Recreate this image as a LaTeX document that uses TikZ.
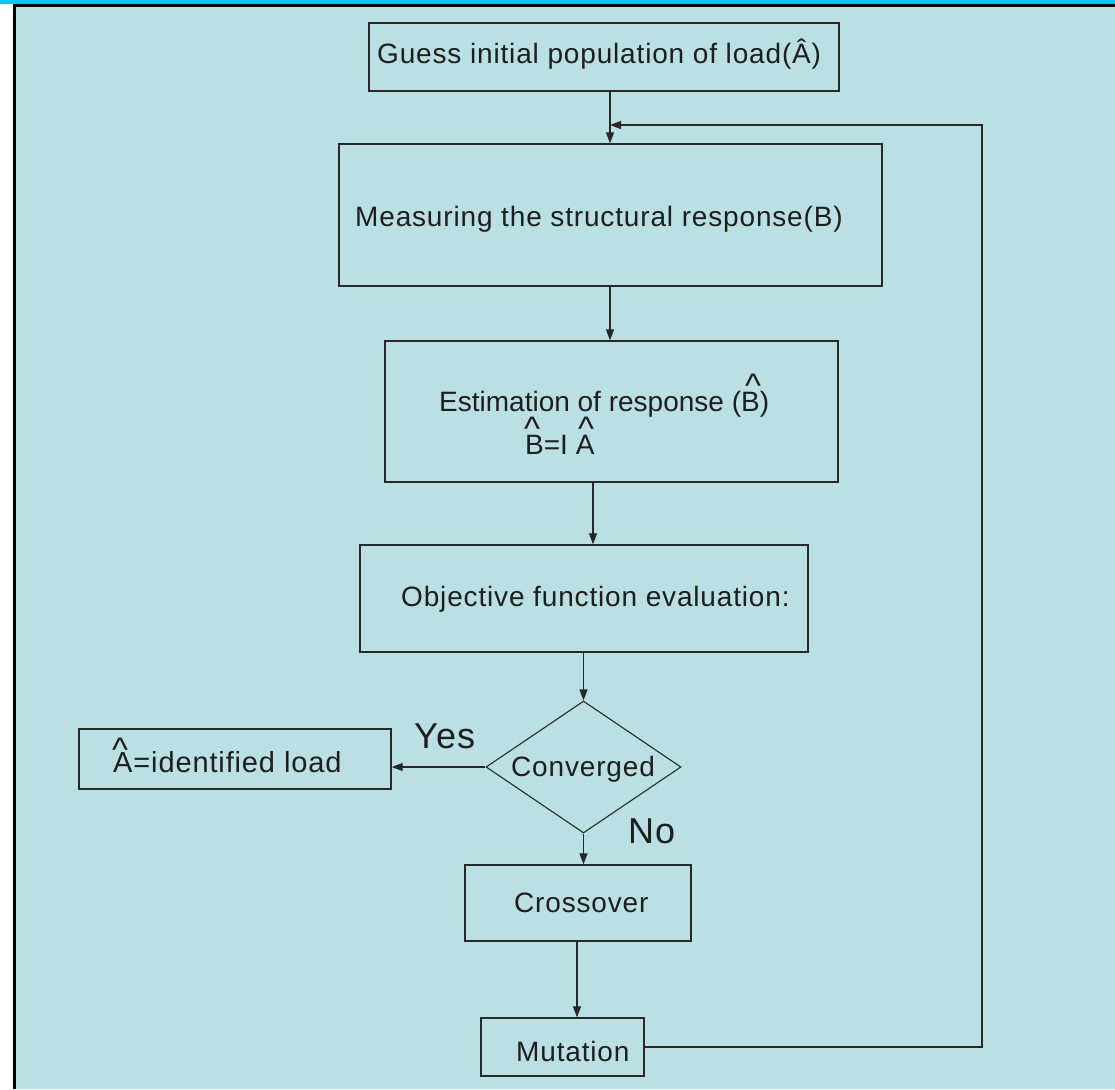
\documentclass[tikz,border=0pt]{standalone}
\usepackage{fontspec}
\setmainfont{Liberation Sans}[LetterSpace=3]
\newfontfamily\plainfont{Liberation Sans}
\usetikzlibrary{shapes.geometric,arrows.meta}
\definecolor{bgc}{RGB}{186,224,227}
\definecolor{topc}{RGB}{0,200,255}
\definecolor{linec}{RGB}{40,40,40}
\definecolor{txtc}{RGB}{30,30,30}
\begin{document}
\begin{tikzpicture}[x=1pt,y=-1pt,
  box/.style={draw=linec,line width=1.3pt,rectangle,inner sep=0pt,anchor=center},
  decision/.style={draw=linec,line width=1.1pt,diamond,inner sep=0pt,anchor=center,
    minimum width=195pt,minimum height=132pt,shape aspect=1.48},
  lbl/.style={anchor=base west,inner sep=0pt,text=txtc,font=\fontsize{28}{34}\selectfont},
  biglbl/.style={anchor=base west,inner sep=0pt,text=txtc,font=\fontsize{36}{40}\selectfont},
  hat/.style={anchor=base west,inner sep=0pt,text=txtc,font=\plainfont\fontsize{34}{40}\selectfont},
  arr/.style={draw=linec,line width=1.2pt,-{Triangle[length=11pt,width=8pt]}},
  ln/.style={draw=linec,line width=1.2pt}]
\useasboundingbox (0,0) rectangle (1115,1089);
% background and frame
\fill[white] (0,0) rectangle (1115,1089);
\fill[bgc] (13,5) rectangle (1115,1089);
\fill[topc] (0,0) rectangle (1115,4.5);
\fill[black] (13,4.5) rectangle (1115,7.5);
\fill[black] (12.5,4.5) rectangle (15.5,1089);
% boxes
\node[box,minimum width=470pt,minimum height=68pt] (guess) at (604,57) {};
\node[box,minimum width=543pt,minimum height=142pt] (meas) at (610.5,215) {};
\node[box,minimum width=453pt,minimum height=141pt] (est) at (611.5,411.5) {};
\node[box,minimum width=448pt,minimum height=107pt] (obj) at (584,598.5) {};
\node[decision] (conv) at (583.5,767) {};
\node[box,minimum width=312pt,minimum height=60pt] (ident) at (235,759) {};
\node[box,minimum width=226pt,minimum height=76pt] (cross) at (578,903) {};
\node[box,minimum width=163pt,minimum height=58pt] (mut) at (562.5,1047) {};
% texts
\node[lbl] (tguess) at (377,64) {Guess initial population of load(Â)};
\node[lbl] (tmeas) at (355,226) {Measuring the structural response(B)};
\node[lbl,font=\plainfont\fontsize{28}{34}\selectfont] (test1) at (439,411) {Estimation of response (B)};
\node[hat] (h1) at (745,397) {\textasciicircum};
\node[lbl,font=\plainfont\fontsize{28}{34}\selectfont] (test2) at (525,454) {B=I A};
\node[hat] (h2) at (524,440) {\textasciicircum};
\node[hat] (h3) at (578,440) {\textasciicircum};
\node[lbl] (tobj) at (401,606) {Objective function evaluation:};
\node[lbl] (tconv) at (511,776) {Converged};
\node[lbl,font=\fontsize{29}{34}\selectfont] (tident) at (113,772) {A=identified load};
\node[hat] (h4) at (112,761) {\textasciicircum};
\node[biglbl] (tyes) at (414,748) {Yes};
\node[biglbl] (tno) at (628,843) {No};
\node[lbl] (tcross) at (514,912) {Crossover};
\node[lbl] (tmut) at (516,1061) {Mutation};
% connectors
\coordinate (join) at (610,125);
\coordinate (rc1) at (982,1047);
\coordinate (rc2) at (982,125);
\draw[arr] (guess.south -| join) -- (meas.north -| join);
\draw[arr] (meas.south -| join) -- (est.north -| join);
\draw[arr] (est.south -| 593,0) -- (obj.north -| 593,0);
\draw[arr] (obj.south -| conv.north) -- (conv.north);
\draw[arr] (conv.west) -- (conv.west -| ident.east);
\draw[arr] (conv.south) -- (conv.south |- cross.north);
\draw[arr] (cross.south -| 577,0) -- (mut.north -| 577,0);
\draw[arr] (mut.east) -- (rc1) -- (rc2) -- (join);
\end{tikzpicture}
\end{document}
